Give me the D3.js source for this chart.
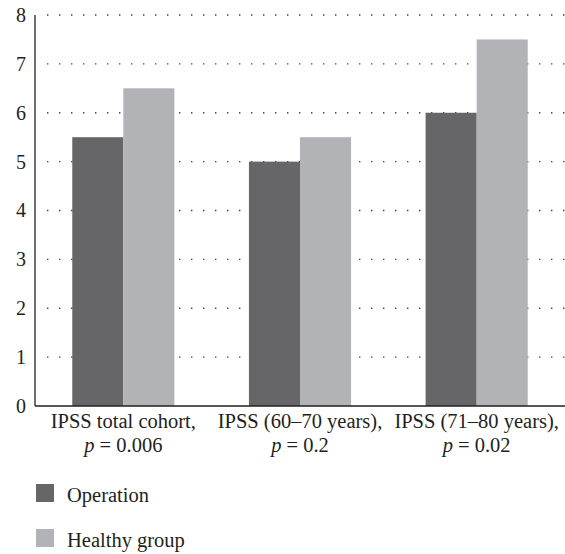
<!DOCTYPE html>
<html>
<head>
<meta charset="utf-8">
<script src="https://cdn.jsdelivr.net/npm/d3@7"></script>
<style>
  body { margin: 0; background: #fff; }
  text { font-family: "Liberation Serif", "DejaVu Serif", serif; fill: #231f20; }
</style>
</head>
<body>
<div id="chart"></div>
<script>
const categories = ["IPSS total cohort,", "IPSS (60\u201370 years),", "IPSS (71\u201380 years),"];
const pValues = ["0.006", "0.2", "0.02"];
const seriesNames = ["Operation", "Healthy group"];
const operation = [5.5, 5, 6];
const healthy = [6.5, 5.5, 7.5];
const yTicks = [0, 1, 2, 3, 4, 5, 6, 7, 8];
const colors = ["#666668", "#b2b3b7"];

const width = 565, height = 554;
const svg = d3.select("#chart").append("svg")
    .attr("width", width)
    .attr("height", height);

const x = d3.scaleBand().domain(categories).range([35, 565]).padding(0);
const sub = d3.scaleBand().domain(seriesNames).range([0, x.bandwidth()]).paddingInner(0).paddingOuter(0.73);
const y = d3.scaleLinear().domain([0, 8]).range([406, 15]);

// dotted gridlines
svg.append("g").selectAll("line").data(yTicks.filter(d => d > 0)).enter().append("line")
    .attr("x1", 47).attr("x2", 565)
    .attr("y1", d => y(d)).attr("y2", d => y(d))
    .attr("stroke", "#444")
    .attr("stroke-width", 1.4)
    .attr("stroke-dasharray", "1.4,10.6");

const rows = categories.map((c, i) => ({ cat: c, values: [operation[i], healthy[i]] }));

const groups = svg.append("g").selectAll("g").data(rows).enter().append("g")
    .attr("transform", d => `translate(${x(d.cat)},0)`);
groups.selectAll("rect").data(d => d.values.map((v, j) => ({ name: seriesNames[j], v, j }))).enter().append("rect")
    .attr("x", d => sub(d.name))
    .attr("width", sub.bandwidth())
    .attr("y", d => y(d.v))
    .attr("height", d => y(0) - y(d.v))
    .attr("fill", d => colors[d.j]);

// axes
const yAxis = svg.append("g").attr("transform", "translate(35,0)")
    .call(d3.axisLeft(y).tickValues(yTicks).tickSize(0).tickPadding(9));
yAxis.select(".domain").attr("stroke", "#231f20").attr("stroke-width", 1.3).attr("d", `M0,${y(8)}V${y(0)}`);
yAxis.selectAll("text").style("font-size", "20px").style("font-family", "Liberation Serif, serif").attr("fill", "#231f20");

svg.append("line").attr("x1", 35).attr("x2", 565).attr("y1", y(0)).attr("y2", y(0))
    .attr("stroke", "#231f20").attr("stroke-width", 1.3);

// category labels
const lbl = svg.append("g").selectAll("text").data(categories).enter().append("text")
    .attr("x", d => x(d) + x.bandwidth() / 2)
    .attr("text-anchor", "middle")
    .style("font-size", "20.5px");
lbl.append("tspan").attr("x", d => x(d) + x.bandwidth() / 2).attr("y", 428).text(d => d);
lbl.append("tspan").attr("x", d => x(d) + x.bandwidth() / 2).attr("y", 452)
    .each(function (d, i) {
        const t = d3.select(this);
        t.append("tspan").style("font-style", "italic").text("p");
        t.append("tspan").text(" = " + pValues[i]);
    });

// legend
const legend = svg.append("g").selectAll("g").data(seriesNames).enter().append("g")
    .attr("transform", (d, i) => `translate(36,${484 + i * 45})`);
legend.append("rect").attr("width", 18).attr("height", 18).attr("fill", (d, i) => colors[i]);
legend.append("text").attr("x", 31).attr("y", 18).style("font-size", "20.5px").text(d => d);
</script>
</body>
</html>
